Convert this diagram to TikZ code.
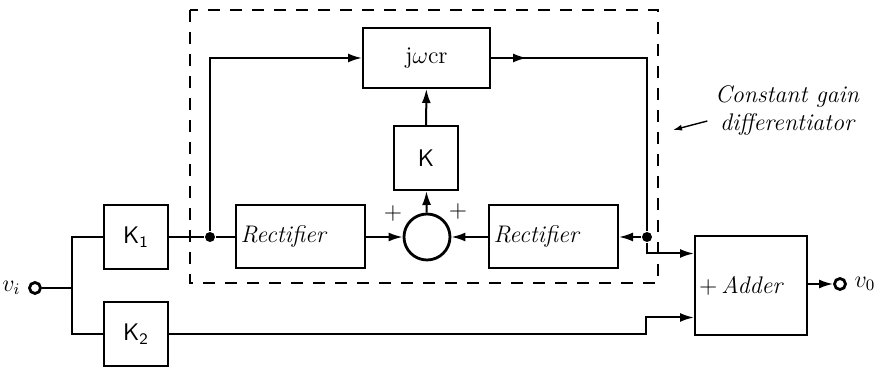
\documentclass[tikz,border=0pt]{standalone}
\usepackage{amsmath}
\usepackage{tikz}
\usetikzlibrary{arrows.meta}

\begin{document}
\begin{tikzpicture}[x=0.5pt,y=-0.5pt,line width=1pt,
  >={Latex[length=7pt,width=4.5pt]},
  blk/.style={draw, line width=1pt, inner sep=0pt},
  gain/.style={blk, minimum width=32pt, minimum height=32pt, font=\large\sffamily},
  rectbox/.style={blk, minimum height=31.5pt, text width=60pt, inner xsep=2.25pt, align=left, font=\large\itshape},
  term/.style={circle, draw, fill=white, inner sep=0pt, minimum size=5.5pt, line width=1.4pt},
  jdot/.style={circle, fill, inner sep=0pt, minimum size=5pt},
  dashbox/.style={dash pattern=on 6pt off 5pt, line width=0.8pt}]
\useasboundingbox (0,0) rectangle (880,367);

% input side
\node[term] (vi) at (35,288) {};
\node[left=0pt] (vilbl) at (vi.west) {\large $v_i$};
\coordinate (jn) at (72,288);
\node[gain] (k1) at (136,237) {K\textsubscript{1}};
\node[gain] (k2) at (136,334) {K\textsubscript{2}};

% differentiator
\draw[dashbox] (190,10) rectangle (658,283);
\node[jdot] (d1) at (210,237) {};
\node[rectbox] (r1) at (300.5,237) {Rectifier};
\node[circle, draw, minimum size=23pt, line width=1.4pt] (sum) at (427,237) {};
\node[font=\large] (pl) at (393,214) {$+$};
\node[font=\large] (pr) at (458,212) {$+$};
\node[rectbox] (r2) at (553.5,237) {Rectifier};
\node[jdot] (d2) at (647,237) {};
\node[gain] (k) at (426,158) {K};
\node[blk, minimum width=63.5pt, minimum height=30pt, font=\large] (jw) at (426.5,58) {j$\omega$cr};

\node[font=\large\itshape, align=center] (lbl) at (787,111) {Constant gain\\differentiator};
\coordinate (dtip) at (673,130);
\draw[-{Latex[length=4.5pt,width=3pt]},line width=0.7pt] ([yshift=-5pt]lbl.west) -- (dtip);

% adder and output
\node[blk, minimum width=56pt, minimum height=49.5pt, text width=52pt, inner xsep=2pt, align=left, font=\large\itshape] (add) at (751,285.5) {$+$\,Adder};
\node[term] (vo) at (840,284) {};
\node[right=0pt] (volbl) at (vo.east) {\large $v_0$};

% connections
\draw (vi) -- (jn);
\draw (jn) |- (k1.west);
\draw (jn) |- (k2.west);
\draw (k1) -- (d1) -- (r1);
\draw[->] (d1) |- (jw.west);
\draw[->] (r1) -- (sum);
\draw[->] (r2) -- (sum);
\draw[->] (sum) -- (k);
\draw[->] (k) -- (jw);
\draw[->] (jw.east) -- ++(36,0);
\draw (jw.east) -| (d2);
\draw[->] (d2) -- (r2);
\draw[->] (d2) |- ([yshift=16pt]add.west);
\draw[->] (k2.east) -| ([xshift=-24pt,yshift=-16pt]add.west) -- ([yshift=-16pt]add.west);
\draw[->] (add.east |- vo) -- (vo);
\end{tikzpicture}
\end{document}
